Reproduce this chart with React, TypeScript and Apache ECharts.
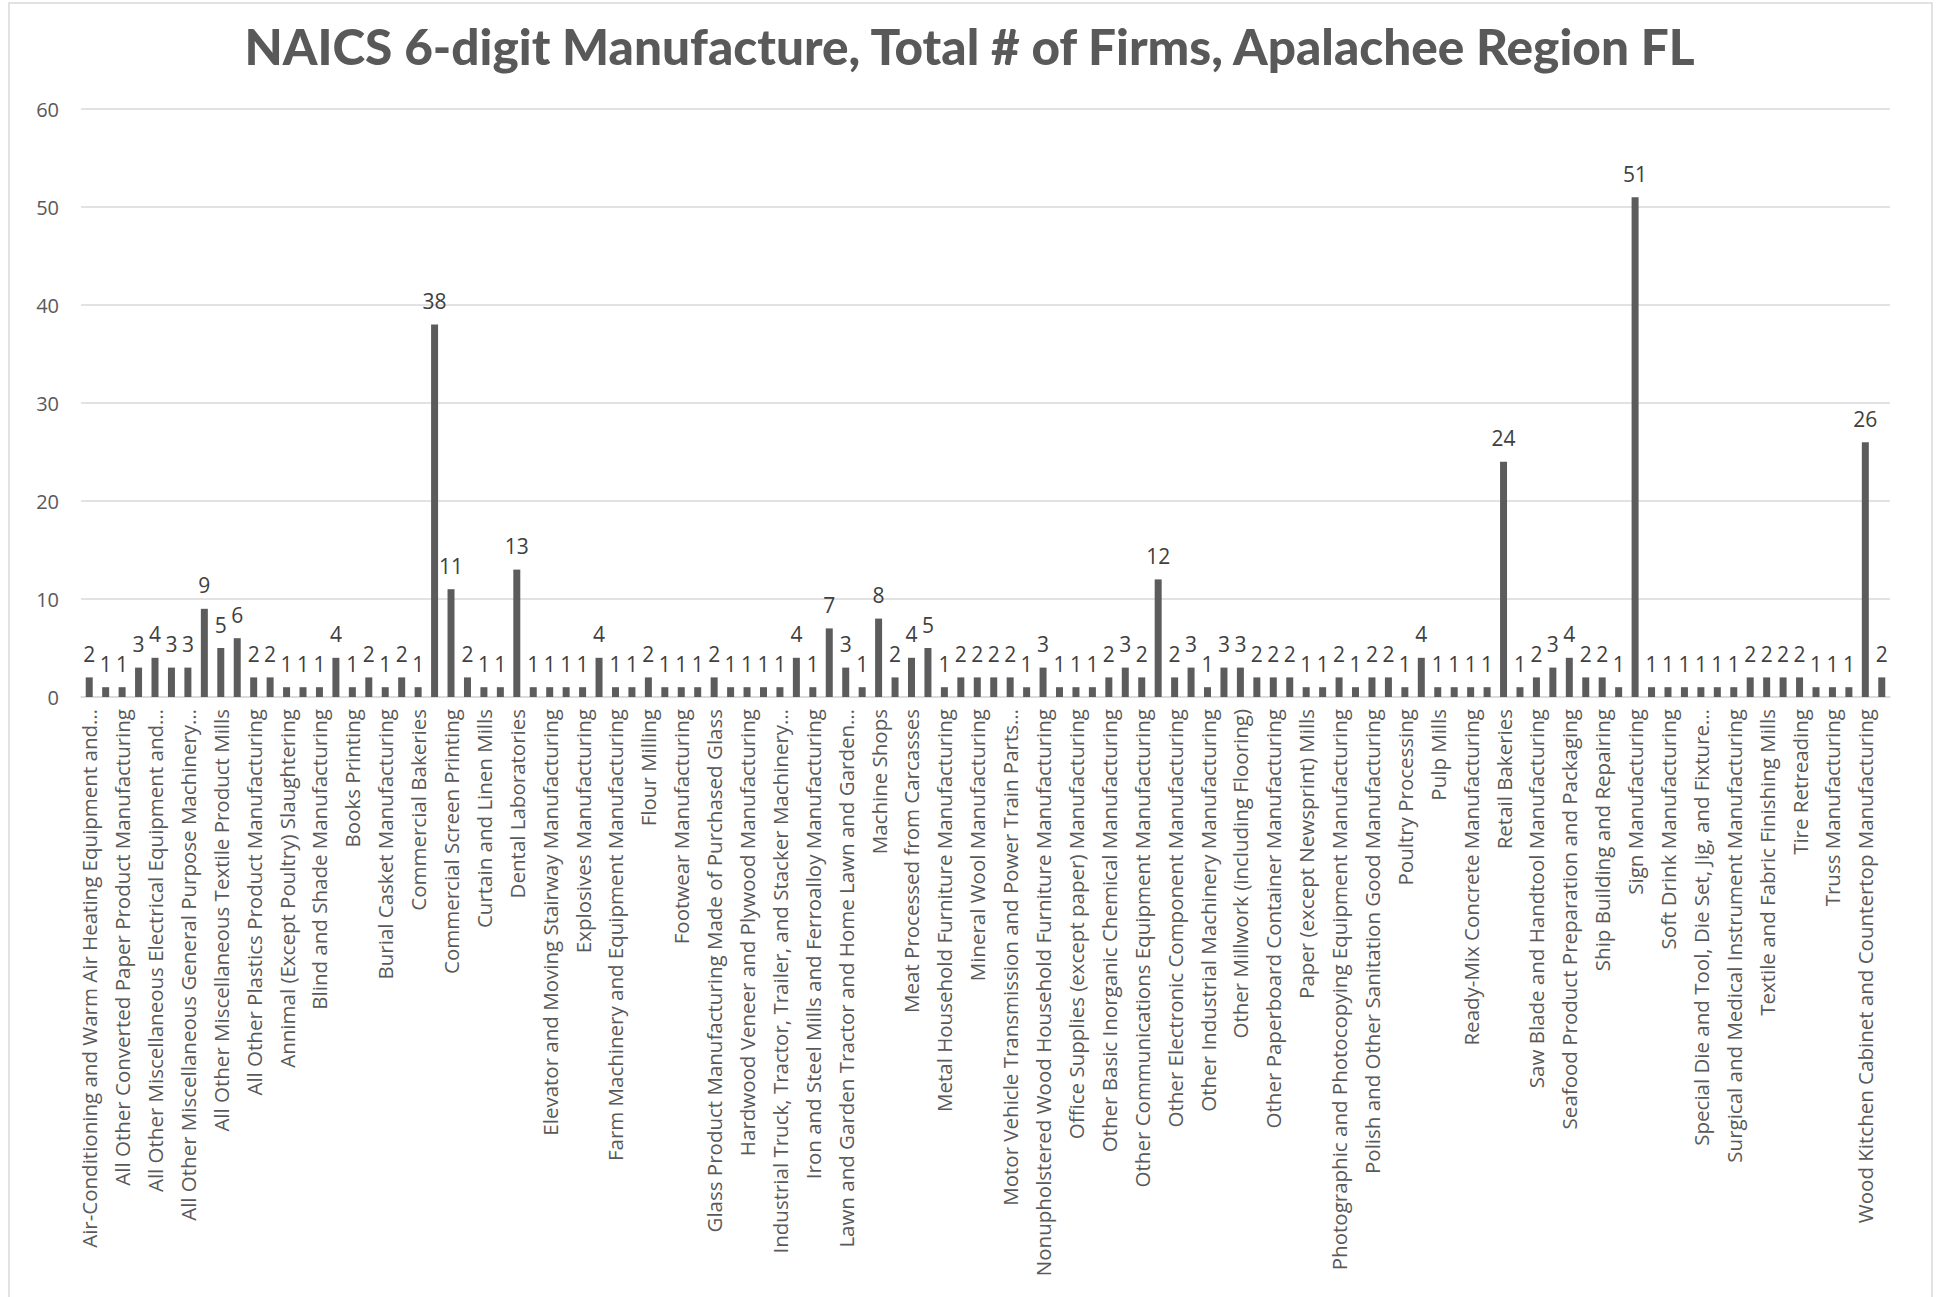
import React, { useEffect, useRef } from "react";
import * as echarts from "echarts";

const TITLE = "NAICS 6-digit Manufacture, Total # of Firms, Apalachee Region FL";

// Category names in chart order (every other one is shown on the axis, as in the original)
const categories: string[] = [
  "Air-Conditioning and Warm Air Heating Equipment and…",
  "All Other Basic Organic Chemical Manufacturing",
  "All Other Converted Paper Product Manufacturing",
  "All Other Miscellaneous Chemical Product and Preparation Manufacturing",
  "All Other Miscellaneous Electrical Equipment and…",
  "All Other Miscellaneous Fabricated Metal Product Manufacturing",
  "All Other Miscellaneous General Purpose Machinery…",
  "All Other Miscellaneous Manufacturing",
  "All Other Miscellaneous Textile Product Mills",
  "All Other Miscellaneous Wood Product Manufacturing",
  "All Other Plastics Product Manufacturing",
  "Aluminum Sheet, Plate, and Foil Manufacturing",
  "Annimal (Except Poultry) Slaughtering",
  "Asphalt Paving Mixture and Block Manufacturing",
  "Blind and Shade Manufacturing",
  "Boat Building",
  "Books Printing",
  "Breweries",
  "Burial Casket Manufacturing",
  "Cheese Manufacturing",
  "Commercial Bakeries",
  "Commercial Printing (except Screen and Books)",
  "Commercial Screen Printing",
  "Concrete Block and Brick Manufacturing",
  "Curtain and Linen Mills",
  "Cut Stone and Stone Product Manufacturing",
  "Dental Laboratories",
  "Distilleries",
  "Elevator and Moving Stairway Manufacturing",
  "Engineered Wood Member (except Truss) Manufacturing",
  "Explosives Manufacturing",
  "Fabricated Structural Metal Manufacturing",
  "Farm Machinery and Equipment Manufacturing",
  "Fertilizer (Mixing Only) Manufacturing",
  "Flour Milling",
  "Fluid Milk Manufacturing",
  "Footwear Manufacturing",
  "Fruit and Vegetable Canning",
  "Glass Product Manufacturing Made of Purchased Glass",
  "Gray and Ductile Iron Foundries",
  "Hardwood Veneer and Plywood Manufacturing",
  "Ice Manufacturing",
  "Industrial Truck, Tractor, Trailer, and Stacker Machinery…",
  "Ink Manufacturing",
  "Iron and Steel Mills and Ferroalloy Manufacturing",
  "Jewelry (except Costume) Manufacturing",
  "Lawn and Garden Tractor and Home Lawn and Garden…",
  "Lime Manufacturing",
  "Machine Shops",
  "Mattress Manufacturing",
  "Meat Processed from Carcasses",
  "Medicinal and Botanical Manufacturing",
  "Metal Household Furniture Manufacturing",
  "Metal Window and Door Manufacturing",
  "Mineral Wool Manufacturing",
  "Motor Vehicle Body Manufacturing",
  "Motor Vehicle Transmission and Power Train Parts…",
  "Newspaper Publishers",
  "Nonupholstered Wood Household Furniture Manufacturing",
  "Office Furniture (except Wood) Manufacturing",
  "Office Supplies (except paper) Manufacturing",
  "Ophthalmic Goods Manufacturing",
  "Other Basic Inorganic Chemical Manufacturing",
  "Other Commercial and Service Industry Machinery Manufacturing",
  "Other Communications Equipment Manufacturing",
  "Other Concrete Product Manufacturing",
  "Other Electronic Component Manufacturing",
  "Other Fabricated Wire Product Manufacturing",
  "Other Industrial Machinery Manufacturing",
  "Other Metal Container Manufacturing",
  "Other Millwork (including Flooring)",
  "Other Ornamental and Architectural Metal Product Manufacturing",
  "Other Paperboard Container Manufacturing",
  "Packaging Machinery Manufacturing",
  "Paper (except Newsprint) Mills",
  "Petroleum Refineries",
  "Photographic and Photocopying Equipment Manufacturing",
  "Plastics Bottle Manufacturing",
  "Polish and Other Sanitation Good Manufacturing",
  "Pottery, Ceramics, and Plumbing Fixture Manufacturing",
  "Poultry Processing",
  "Printing Machinery and Equipment Manufacturing",
  "Pulp Mills",
  "Radio and Television Broadcasting Equipment Manufacturing",
  "Ready-Mix Concrete Manufacturing",
  "Residential Electric Lighting Fixture Manufacturing",
  "Retail Bakeries",
  "Rubber Product Manufacturing for Mechanical Use",
  "Saw Blade and Handtool Manufacturing",
  "Sawmills",
  "Seafood Product Preparation and Packaging",
  "Sheet Metal Work Manufacturing",
  "Ship Building and Repairing",
  "Showcase, Partition, Shelving, and Locker Manufacturing",
  "Sign Manufacturing",
  "Soap and Other Detergent Manufacturing",
  "Soft Drink Manufacturing",
  "Soybean and Other Oilseed Processing",
  "Special Die and Tool, Die Set, Jig, and Fixture…",
  "Sporting and Athletic Goods Manufacturing",
  "Surgical and Medical Instrument Manufacturing",
  "Surgical Appliance and Supplies Manufacturing",
  "Textile and Fabric Finishing Mills",
  "Textile Bag and Canvas Mills",
  "Tire Retreading",
  "Travel Trailer and Camper Manufacturing",
  "Truss Manufacturing",
  "Wood Container and Pallet Manufacturing",
  "Wood Kitchen Cabinet and Countertop Manufacturing",
  "Wood Window and Door Manufacturing",
];

// Total # of firms per category
const firms: number[] = [
  2, 1, 1, 3, 4, 3, 3, 9, 5, 6,
  2, 2, 1, 1, 1, 4, 1, 2, 1, 2,
  1, 38, 11, 2, 1, 1, 13, 1, 1, 1,
  1, 4, 1, 1, 2, 1, 1, 1, 2, 1,
  1, 1, 1, 4, 1, 7, 3, 1, 8, 2,
  4, 5, 1, 2, 2, 2, 2, 1, 3, 1,
  1, 1, 2, 3, 2, 12, 2, 3, 1, 3,
  3, 2, 2, 2, 1, 1, 2, 1, 2, 2,
  1, 4, 1, 1, 1, 1, 24, 1, 2, 3,
  4, 2, 2, 1, 51, 1, 1, 1, 1, 1,
  1, 2, 2, 2, 2, 1, 1, 1, 26, 2,
];

const yTicks = { min: 0, max: 60, interval: 10 };

export default function App() {
  const ref = useRef<HTMLDivElement>(null);

  useEffect(() => {
    if (!ref.current) return;
    const chart = echarts.init(ref.current, undefined, { renderer: "svg" });
    const labelFont = "'Open Sans', 'Noto Sans', sans-serif";
    chart.setOption({
      animation: false,
      backgroundColor: "#ffffff",
      title: {
        text: TITLE,
        left: "center",
        top: 16,
        textStyle: {
          fontFamily: "Lato, 'Open Sans', sans-serif",
          fontWeight: 900,
          fontSize: 49.5,
          color: "#595959",
        },
      },
      graphic: [
        {
          type: "rect",
          shape: { x: 9, y: 3, width: 1923, height: 1310 },
          style: { fill: "none", stroke: "#d9d9d9", lineWidth: 1.5 },
          silent: true,
        },
      ],
      grid: { left: 81, right: 49, top: 109, bottom: 600, containLabel: false },
      xAxis: {
        type: "category",
        data: categories,
        axisLine: { show: true, lineStyle: { color: "#d9d9d9", width: 1.5 } },
        axisTick: { show: false },
        axisLabel: {
          interval: 1,
          rotate: 90,
          margin: 12,
          fontFamily: labelFont,
          fontSize: 20.5,
          color: "#595959",
        },
      },
      yAxis: {
        type: "value",
        min: yTicks.min,
        max: yTicks.max,
        interval: yTicks.interval,
        axisLine: { show: false },
        axisTick: { show: false },
        splitLine: { lineStyle: { color: "#d9d9d9", width: 1.5 } },
        axisLabel: {
          margin: 22,
          fontFamily: labelFont,
          fontSize: 20,
          color: "#595959",
        },
      },
      series: [
        {
          type: "bar",
          data: firms,
          barWidth: 7,
          itemStyle: { color: "#5c5c5c" },
          label: {
            show: true,
            position: "top",
            distance: 13,
            fontFamily: labelFont,
            fontSize: 21,
            color: "#404040",
          },
        },
      ],
    });
    return () => chart.dispose();
  }, []);

  return (
    <div
      ref={ref}
      style={{ position: "absolute", left: 0, top: 0, width: 1939, height: 1297 }}
    />
  );
}
